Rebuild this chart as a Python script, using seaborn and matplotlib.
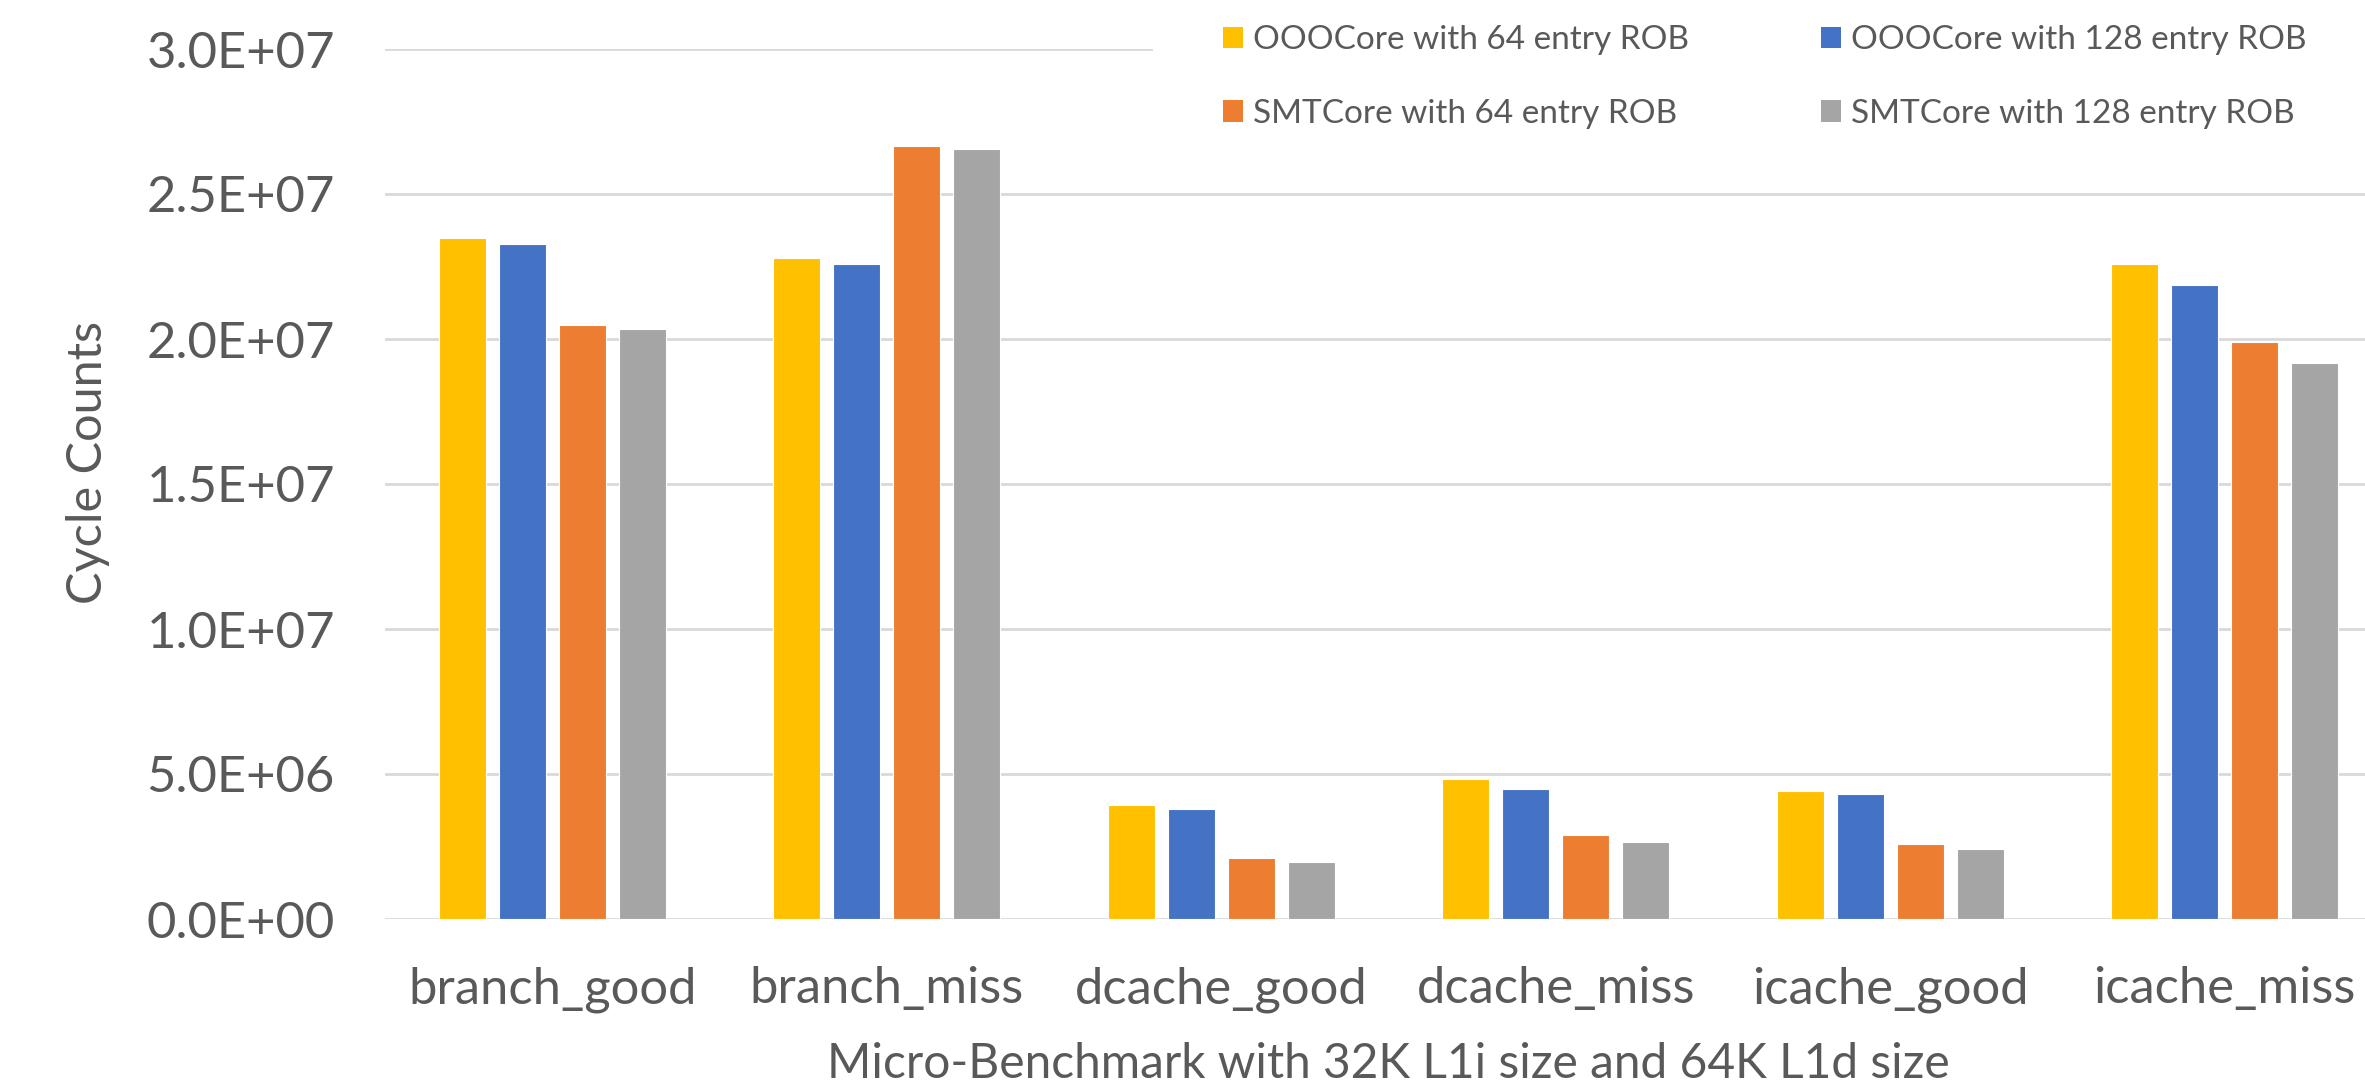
import pandas as pd
import numpy as np
import seaborn as sns
import matplotlib.pyplot as plt
from matplotlib.patches import Patch, Rectangle
from matplotlib.ticker import FuncFormatter

benchmarks = ["branch_good", "branch_miss", "dcache_good", "dcache_miss", "icache_good", "icache_miss"]
series = ["OOOCore with 64 entry ROB", "OOOCore with 128 entry ROB",
          "SMTCore with 64 entry ROB", "SMTCore with 128 entry ROB"]

# cycle counts
ooo_64 = [23.47e6, 22.78e6, 3.92e6, 4.84e6, 4.43e6, 22.6e6]
ooo_128 = [23.27e6, 22.6e6, 3.81e6, 4.47e6, 4.30e6, 21.87e6]
smt_64 = [20.49e6, 26.65e6, 2.09e6, 2.91e6, 2.57e6, 19.88e6]
smt_128 = [20.36e6, 26.55e6, 1.95e6, 2.64e6, 2.41e6, 19.16e6]

colors = ["#FFC000", "#4472C4", "#ED7D31", "#A5A5A5"]
yticks = [0, 5e6, 1e7, 1.5e7, 2e7, 2.5e7, 3e7]

data = pd.DataFrame({
    "benchmark": benchmarks * 4,
    "series": np.repeat(series, len(benchmarks)),
    "cycles": ooo_64 + ooo_128 + smt_64 + smt_128,
})

sns.set_style("white")
plt.rcParams['font.family'] = ['Lato', 'DejaVu Sans']
txt = "#595959"
grid = "#D9D9D9"

fig = plt.figure(figsize=(23.65, 10.88), dpi=100)
ax = fig.add_axes([385 / 2365, 169 / 1088, 2007 / 2365, 870 / 1088])

sns.barplot(data=data, x="benchmark", y="cycles", hue="series", order=benchmarks,
            hue_order=series, palette=colors, width=0.717, gap=0.22,
            errorbar=None, legend=False, saturation=1, edgecolor="white",
            linewidth=0.8, ax=ax, zorder=3)

ax.set_ylim(0, 3e7)
ax.set_xlim(-0.5, len(benchmarks) - 0.5)
ax.set_yticks(yticks)
ax.yaxis.set_major_formatter(FuncFormatter(lambda v, p: f"{v:.1E}"))
ax.grid(axis="y", color=grid, linewidth=2, zorder=0)
ax.set_axisbelow(True)
for s in ax.spines.values():
    s.set_visible(False)
ax.tick_params(axis="both", length=0, labelsize=36.5, colors=txt)
ax.tick_params(axis="y", pad=36)
ax.tick_params(axis="x", pad=34)

ax.set_xlabel("Micro-Benchmark with 32K L1i size and 64K L1d size", fontsize=34.5, color=txt, labelpad=21)
ax.set_ylabel("Cycle Counts", fontsize=35, color=txt)
ax.yaxis.set_label_coords(-0.137, 0.525)

# white legend area hides the top gridline on the right
ax.add_patch(Rectangle((1153 / 2365, 1 - 95 / 1088), 1, 95 / 1088, transform=fig.transFigure,
                       facecolor="white", edgecolor="none", zorder=2, clip_on=False))

# legend: column 1 = 64 entry, column 2 = 128 entry
order = [0, 2, 1, 3]
handles = [Patch(facecolor=colors[i], edgecolor="none") for i in order]
labels = [series[i] for i in order]
leg = fig.legend(handles, labels, ncol=2, loc="upper left",
                 bbox_to_anchor=(1153 / 2365, 1.041), frameon=False, fontsize=24,
                 handlelength=0.6, handleheight=0.6, handletextpad=0.3,
                 columnspacing=3.95, labelspacing=1.3, borderpad=2.1,
                 borderaxespad=0, labelcolor=txt)

fig.savefig("out.png", dpi=100)
